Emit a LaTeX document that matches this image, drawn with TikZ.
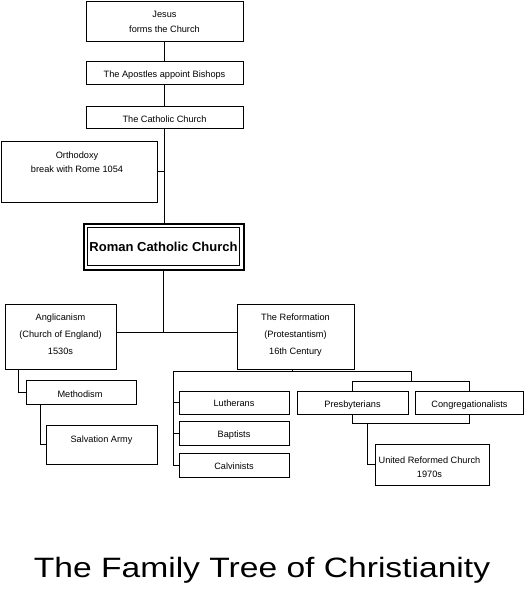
\documentclass[tikz,border=0pt]{standalone}
\usepackage{fontspec}
\setmainfont{Liberation Sans}
\newfontfamily\titlefont[FakeStretch=1.2]{Liberation Sans}
\newfontfamily\rcfont{Liberation Sans}
\begin{document}
\begin{tikzpicture}[x=1pt,y=-1pt,
  box/.style={draw=black,line width=0.9pt,rectangle,inner sep=0pt,outer sep=0pt},
  txt/.style={anchor=base,inner sep=0pt,font=\fontsize{9.2}{11}\selectfont},
  conn/.style={draw=black,line width=0.9pt}]
\useasboundingbox (0,0) rectangle (525,599);
\fill[white] (0,0) rectangle (525,599);
% boxes
\node[box,minimum width=157,minimum height=40] (jesus) at (164.5,21) {};
\node[box,minimum width=157,minimum height=23] (apostles) at (164.5,72.5) {};
\node[box,minimum width=157,minimum height=22] (catholic) at (164.5,117) {};
\node[box,minimum width=156,minimum height=61] (orthodoxy) at (79,171.5) {};
\node[draw=black,line width=2pt,rectangle,inner sep=0pt,outer sep=0pt,minimum width=160,minimum height=46] (rc) at (163.5,246.5) {};
\node[draw=black,line width=0.8pt,rectangle,inner sep=0pt,minimum width=152,minimum height=38] (rcin) at (163.5,246.5) {};
\node[box,minimum width=111,minimum height=65] (anglican) at (60.5,336.5) {};
\node[box,minimum width=117,minimum height=65] (reform) at (295.5,336.5) {};
\node[box,minimum width=110,minimum height=24] (methodism) at (81,392) {};
\node[box,minimum width=111,minimum height=39] (salvation) at (101.5,444.5) {};
\node[box,minimum width=110,minimum height=23] (lutherans) at (234,402.5) {};
\node[box,minimum width=110,minimum height=24] (baptists) at (234,433) {};
\node[box,minimum width=110,minimum height=24] (calvinists) at (234,465) {};
\node[box,minimum width=111,minimum height=23] (presby) at (352.5,402.5) {};
\node[box,minimum width=108,minimum height=23] (congreg) at (469.5,402.5) {};
\node[box,minimum width=114,minimum height=41] (urc) at (432,464.5) {};
% texts
\node[txt] (t1) at (164.5,17.5) {Jesus};
\node[txt] (t2) at (164.5,32.5) {forms the Church};
\node[txt] (t3) at (164.5,78) {The Apostles appoint Bishops};
\node[txt] (t4) at (164.5,122) {The Catholic Church};
\node[txt] (t5) at (77,158) {Orthodoxy};
\node[txt] (t6) at (77,172.5) {break with Rome 1054};
\node[anchor=base,inner sep=0pt,font=\rcfont\bfseries\fontsize{13}{15}\selectfont] (t7) at (163.5,251.5) {Roman Catholic Church};
\node[txt] (t8) at (60.5,320) {Anglicanism};
\node[txt] (t9) at (60.5,337) {(Church of England)};
\node[txt] (t10) at (60.5,354) {1530s};
\node[txt] (t11) at (295.5,320) {The Reformation};
\node[txt] (t12) at (295.5,337) {(Protestantism)};
\node[txt] (t13) at (295.5,354) {16th Century};
\node[txt] (t14) at (80,397) {Methodism};
\node[txt] (t15) at (101.5,442) {Salvation Army};
\node[txt] (t16) at (234,406.5) {Lutherans};
\node[txt] (t17) at (234,437.5) {Baptists};
\node[txt] (t18) at (234,469.5) {Calvinists};
\node[txt] (t19) at (352.5,407) {Presbyterians};
\node[txt] (t20) at (469.5,407) {Congregationalists};
\node[txt] (t21) at (429.5,463) {United Reformed Church};
\node[txt] (t22) at (429.5,477.5) {1970s};
\node[anchor=base,inner sep=0pt,font=\titlefont\fontsize{28}{32}\selectfont] (title) at (262,577.5) {The Family Tree of Christianity};
% connectors
\draw[conn] (jesus.south) -- (apostles.north);
\draw[conn] (apostles.south) -- (catholic.north);
\draw[conn] (catholic.south) -- (catholic.south |- rc.north);
\draw[conn] (orthodoxy.east) -- (catholic.south |- orthodoxy.east);
\coordinate (j1) at (164,332);
\draw[conn] (rc.south) -- (rc.south |- j1);
\draw[conn] (anglican.east |- j1) -- (reform.west |- j1);
\coordinate (a1) at (18.5,392);
\draw[conn] (a1 |- anglican.south) -- (a1) -- (methodism.west);
\coordinate (m1) at (40,444.5);
\draw[conn] (m1 |- methodism.south) -- (m1) -- (salvation.west);
\coordinate (r1) at (173,371);
\coordinate (r2) at (411,371);
\coordinate (b1) at (411,381);
\coordinate (rs) at (292,371);
\draw[conn] (rs |- reform.south) -- (rs);
\draw[conn] (r1) -- (r2) -- (b1);
\draw[conn] (presby.north) -- (presby.north |- b1) -- (congreg.north |- b1) -- (congreg.north);
\draw[conn] (r1) |- (calvinists.west);
\draw[conn] (r1 |- lutherans.west) -- (lutherans.west);
\draw[conn] (r1 |- baptists.west) -- (baptists.west);
\coordinate (b2) at (367,423.5);
\draw[conn] (presby.south) -- (presby.south |- b2) -- (congreg.south |- b2) -- (congreg.south);
\draw[conn] (b2) |- (urc.west);
\end{tikzpicture}
\end{document}
